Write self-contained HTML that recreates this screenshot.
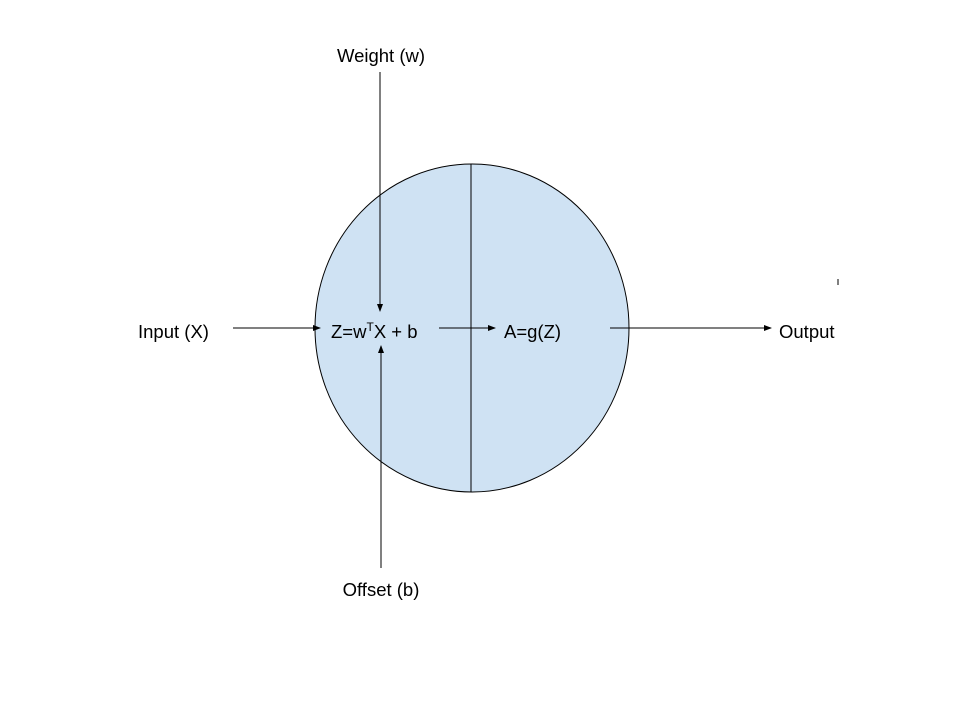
<!DOCTYPE html>
<html><head><meta charset="utf-8"><style>
html,body{margin:0;padding:0;background:#fff;}
svg{display:block;}
text{font-family:"Liberation Sans",Arial,sans-serif;font-size:18.5px;fill:#000;}
</style></head><body>
<svg width="960" height="720" viewBox="0 0 960 720">
<defs><marker id="ah" markerWidth="8" markerHeight="6" refX="7" refY="3" orient="auto" markerUnits="userSpaceOnUse"><path d="M0,0 L8,3 L0,6 z" fill="#000"/></marker></defs>
<ellipse cx="472" cy="328" rx="157" ry="164" fill="#cfe2f3" stroke="#000" stroke-width="1"/>
<line x1="471" y1="164" x2="471" y2="492" stroke="#000" stroke-width="1"/>
<line x1="233" y1="328" x2="320" y2="328" stroke="#000" marker-end="url(#ah)"/>
<line x1="380" y1="72" x2="380" y2="311" stroke="#000" marker-end="url(#ah)"/>
<line x1="381" y1="568" x2="381" y2="346" stroke="#000" marker-end="url(#ah)"/>
<line x1="439" y1="328" x2="495" y2="328" stroke="#000" marker-end="url(#ah)"/>
<line x1="610" y1="328" x2="771" y2="328" stroke="#000" marker-end="url(#ah)"/>
<line x1="838" y1="279" x2="838" y2="285" stroke="#000"/>
<text x="381" y="62" text-anchor="middle">Weight (w)</text>
<text x="138" y="338">Input (X)</text>
<text x="331" y="338">Z=w<tspan dy="-7" font-size="12">T</tspan><tspan dy="7">X + b</tspan></text>
<text x="504" y="338">A=g(Z)</text>
<text x="779" y="338">Output</text>
<text x="381" y="596" text-anchor="middle">Offset (b)</text>
</svg>
</body></html>
